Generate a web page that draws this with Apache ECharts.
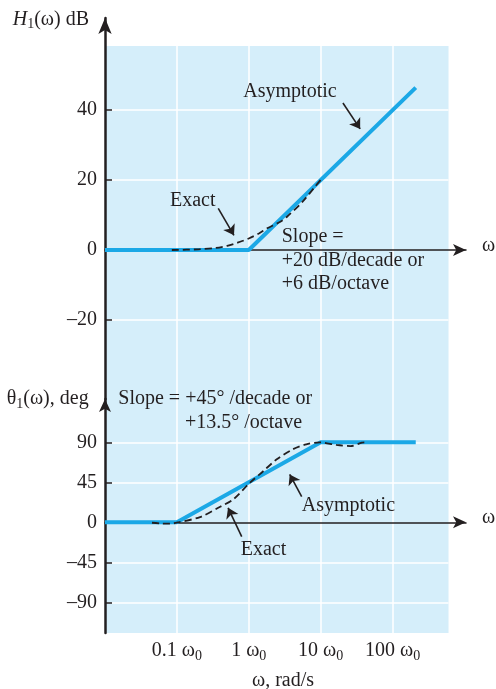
<!DOCTYPE html>
<html><head><meta charset="utf-8">
<script src="https://cdn.jsdelivr.net/npm/echarts@6/dist/echarts.min.js"></script>
<style>html,body{margin:0;padding:0;background:#fff}#c{width:496px;height:689px}</style>
</head><body><div id="c"></div>
<script>
// ---------- data ----------
const magTicks = [-20, 0, 20, 40];
const phaseTicks = [-90, -45, 0, 45, 90];
const freqTicks = [0.1, 1, 10, 100];
const freqTickLabels = ['0.1', '1', '10', '100'];

const magAsymptotic = [[0.01, 0], [1, 0], [210, 46.4]];
const magExact = [[0.085, 0], [0.2, 0.2], [0.35, 0.6], [0.5, 1.2], [0.7, 2.1], [1, 3.3], [1.4, 4.8],
  [1.8, 6.2], [2.7, 8], [3.4, 9.5], [5.6, 13.8], [8.5, 18.3], [10, 20]];
const phaseAsymptotic = [[0.01, 0], [0.1, 0], [10, 90], [210, 90]];
const phaseExact = [[0.045, -0.5], [0.06, -1.3], [0.08, -1.5], [0.105, 0], [0.21, 5.9], [0.4, 17.5],
  [0.61, 25.9], [1.04, 44.6], [1.6, 57.7], [2.45, 70.9], [4.1, 82.1], [6.3, 87.7], [9.8, 90],
  [16.5, 87], [26, 85.8], [37.5, 89.6], [43, 90]];

// annotation arrows: [tail, head] in data coordinates
const magArrows = [[[20.4, 42], [35.4, 34.6]], [[0.376, 11.9], [0.622, 4.2]]];
const phaseArrows = [[[5.44, 28.8], [3.71, 53.9]], [[0.797, -16.2], [0.515, 16.3]]];

// ---------- axis extents ----------
const xMin = 0.01, xMax = 1050, panelRight = 600;
const magMin = -42.571, magMax = 66.286, magPanelTop = 58.29;
const phaseMin = -124.5, phaseMax = 138.7;

const FONT = '"Liberation Serif", "Times New Roman", serif';
const INK = '#231f20';
const BLUE = '#1ba8e6';
const PANEL = '#d5eefa';

const fmtY = v => (v < 0 ? '\u2013' + Math.abs(v) : String(v));

function bgSeries(xi, yi, yBottom, yTop, hTicks) {
  const lines = [];
  hTicks.filter(v => v !== 0).forEach(v => lines.push([{coord: [xMin, v]}, {coord: [panelRight, v]}]));
  freqTicks.forEach(f => lines.push([{coord: [f, yBottom]}, {coord: [f, yTop]}]));
  return {
    type: 'line', xAxisIndex: xi, yAxisIndex: yi, data: [], silent: true, z: -5,
    markArea: {
      silent: true, z: -4, label: {show: false}, itemStyle: {color: PANEL},
      emphasis: {disabled: true},
      data: [[{xAxis: xMin, yAxis: yBottom}, {xAxis: panelRight, yAxis: yTop}]]
    },
    markLine: {
      silent: true, z: -3, symbol: ['none', 'none'], label: {show: false},
      emphasis: {disabled: true}, animation: false,
      lineStyle: {color: '#ffffff', width: 1.5, type: 'solid'},
      data: lines
    }
  };
}

function arrowMarks(arrows) {
  return {
    silent: true, symbol: ['none', 'arrow'], symbolSize: 10, label: {show: false},
    emphasis: {disabled: true}, animation: false,
    lineStyle: {color: INK, width: 1.6, type: 'solid'},
    data: arrows.map(a => [{coord: a[0]}, {coord: a[1]}])
  };
}

const xAxisBase = (gi) => ({
  gridIndex: gi, type: 'log', logBase: 10, min: xMin, max: xMax,
  axisLine: {show: true, onZero: true, symbol: ['none', 'arrow'], symbolSize: [9, 13],
    lineStyle: {color: INK, width: 1.5}},
  axisTick: {show: false}, axisLabel: {show: false}, splitLine: {show: false}
});

const yAxisBase = (gi, mn, mx, ticks, sym) => ({
  gridIndex: gi, type: 'value', min: mn, max: mx,
  axisLine: {show: true, onZero: false, symbol: ['none', 'arrow'], symbolSize: sym,
    lineStyle: {color: INK, width: 2.5}},
  axisTick: {show: true, inside: true, length: 7, customValues: ticks,
    lineStyle: {color: INK, width: 1.5}},
  axisLabel: {show: true, customValues: ticks, formatter: fmtY, margin: 8,
    color: INK, fontFamily: FONT, fontSize: 20},
  splitLine: {show: false}
});

const xLabelAxis = Object.assign(xAxisBase(1), {
  axisLine: {show: false, onZero: false},
  position: 'bottom',
  axisLabel: {
    show: true, margin: 6,
    formatter: v => {
      const i = freqTicks.findIndex(t => Math.abs(Math.log10(t) - Math.log10(v)) < 1e-6);
      return i < 0 ? '' : '{n|' + freqTickLabels[i] + ' \u03c9}{s|0}';
    },
    rich: {
      n: {fontFamily: FONT, fontSize: 20, color: INK},
      s: {fontFamily: FONT, fontSize: 14, color: INK, padding: [10, 0, 0, 0]}
    }
  }
});

const SERIF = '"Liberation Serif"';
function txt(x, y, text, align) {
  return {type: 'text', x: x, y: y, silent: true, z: 100,
    style: {text: text, fill: INK, font: '20px ' + SERIF, align: align || 'left', verticalAlign: 'middle'}};
}
function richTxt(x, y, text, align) {
  return {type: 'text', x: x, y: y, silent: true, z: 100,
    style: {text: text, fill: INK, font: '20px ' + SERIF, align: align || 'left', verticalAlign: 'middle',
      rich: {
        n: {font: '20px ' + SERIF, fill: INK},
        i: {font: 'italic 20px ' + SERIF, fill: INK},
        s: {font: '14px ' + SERIF, fill: INK, padding: [10, 0, 0, 0]}
      }}};
}

const option = {
  animation: false,
  backgroundColor: '#ffffff',
  grid: [
    {left: 105, right: 30, top: 18, height: 381, containLabel: false, outerBoundsMode: 'none'},
    {left: 105, right: 30, top: 399, height: 234, containLabel: false, outerBoundsMode: 'none'}
  ],
  xAxis: [xAxisBase(0), xAxisBase(1), xLabelAxis],
  yAxis: [
    yAxisBase(0, magMin, magMax, magTicks, [10, 16]),
    yAxisBase(1, phaseMin, phaseMax, phaseTicks, [9, 13])
  ],
  series: [
    bgSeries(0, 0, magMin, magPanelTop, magTicks),
    bgSeries(1, 1, phaseMin, phaseMax, phaseTicks),
    {type: 'line', xAxisIndex: 0, yAxisIndex: 0, data: magAsymptotic, symbol: 'none', z: 3,
      lineStyle: {color: BLUE, width: 4}, markLine: arrowMarks(magArrows)},
    {type: 'line', xAxisIndex: 0, yAxisIndex: 0, data: magExact, symbol: 'none', z: 4, smooth: 0.3,
      lineStyle: {color: INK, width: 1.8, type: [7, 4]}},
    {type: 'line', xAxisIndex: 1, yAxisIndex: 1, data: phaseAsymptotic, symbol: 'none', z: 3,
      lineStyle: {color: BLUE, width: 4}, markLine: arrowMarks(phaseArrows)},
    {type: 'line', xAxisIndex: 1, yAxisIndex: 1, data: phaseExact, symbol: 'none', z: 4, smooth: 0.3,
      lineStyle: {color: INK, width: 1.8, type: [7, 4]}}
  ],
  graphic: [
    richTxt(12.7, 19.5, '{i|H}{s|1}{n|(\u03c9) dB}'),
    txt(243.3, 92, 'Asymptotic'),
    txt(170, 200.5, 'Exact'),
    txt(281.7, 237, 'Slope ='),
    txt(281.7, 260.5, '+20 dB/decade or'),
    txt(281.7, 284, '+6 dB/octave'),
    txt(482, 246, '\u03c9'),
    richTxt(6.7, 399, '{n|\u03b8}{s|1}{n|(\u03c9), deg}'),
    txt(118.3, 399, 'Slope = +45\u00b0 /decade or'),
    txt(185, 423, '+13.5\u00b0 /octave'),
    txt(301.7, 505.5, 'Asymptotic'),
    txt(240.7, 550, 'Exact'),
    txt(482, 518, '\u03c9'),
    txt(283, 680.5, '\u03c9, rad/s', 'center')
  ]
};

const chart = echarts.init(document.getElementById('c'));
chart.setOption(option);
</script>
</body></html>
